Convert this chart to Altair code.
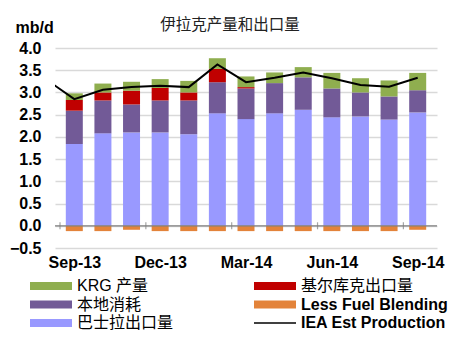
import altair as alt
import pandas as pd

# ---------------- data ----------------
months = ['Sep-13', 'Oct-13', 'Nov-13', 'Dec-13', 'Jan-14', 'Feb-14', 'Mar-14',
          'Apr-14', 'May-14', 'Jun-14', 'Jul-14', 'Aug-14', 'Sep-14']
basra = [1.84, 2.08, 2.10, 2.10, 2.06, 2.53, 2.40, 2.53, 2.61, 2.44, 2.46, 2.39, 2.55]
local = [0.75, 0.74, 0.63, 0.72, 0.76, 0.70, 0.69, 0.68, 0.73, 0.65, 0.54, 0.52, 0.50]
kirkuk = [0.24, 0.18, 0.31, 0.28, 0.18, 0.30, 0.03, 0.0, 0.0, 0.0, 0.0, 0.0, 0.0]
krg = [0.15, 0.20, 0.20, 0.20, 0.26, 0.24, 0.24, 0.24, 0.23, 0.35, 0.32, 0.36, 0.39]
fuel = [-0.12, -0.12, -0.09, -0.12, -0.12, -0.12, -0.12, -0.12, -0.12, -0.12, -0.12, -0.12, -0.09]
line_months = ['Aug-13'] + months
production = [3.30, 2.85, 3.06, 3.12, 3.15, 3.12, 3.63, 3.23, 3.33, 3.45, 3.32, 3.17, 3.13, 3.33]
label_months = [0, 3, 6, 9, 12]
y_ticks = [-0.5, 0.0, 0.5, 1.0, 1.5, 2.0, 2.5, 3.0, 3.5, 4.0]

S_KRG = 'KRG 产量'
S_KIR = '基尔库克出口量'
S_LOC = '本地消耗'
S_FUEL = 'Less Fuel Blending'
S_BAS = '巴士拉出口量'
S_IEA = 'IEA Est Production'
legend_order = [S_KRG, S_LOC, S_BAS, S_KIR, S_FUEL, S_IEA]
colors = ['#8FAE4F', '#725A97', '#9999FF', '#C00000', '#E3833A', '#000000']
stack_series = [(S_BAS, basra), (S_LOC, local), (S_KIR, kirkuk), (S_KRG, krg), (S_FUEL, fuel)]

rows = []
for i, m in enumerate(months):
    for k, (name, arr) in enumerate(stack_series):
        rows.append({'idx': i, 'month': m, 'series': name, 'value': arr[i], 'ord': k})
bars_df = pd.DataFrame(rows)
line_df = pd.DataFrame({'idx': list(range(-1, len(months))), 'month': line_months,
                        'series': S_IEA, 'value': production})
ticks_df = pd.DataFrame({'idx': label_months, 'value': [0.0] * len(label_months)})
zero_df = pd.DataFrame({'value': [0.0]})

FONT = 'Liberation Sans, Noto Sans CJK SC, sans-serif'
label_js = '[' + ','.join("'%s'" % m for m in months) + '][datum.value]'

xscale = alt.Scale(domain=[-0.5, len(months) - 0.5], nice=False, zero=False)
yscale = alt.Scale(domain=[-0.5, 4.0], nice=False, zero=False)

x_axis = alt.Axis(values=label_months, labelExpr=label_js, grid=False, ticks=False,
                  tickSize=0, domain=False, labelFont=FONT, labelFontSize=16,
                  labelFontWeight='bold', labelColor='#000', labelPadding=6,
                  labelFlush=False, labelOverlap=False, title=None)
y_axis = alt.Axis(values=y_ticks, format='.1f',
                  grid=True, gridColor='#D9D9D9', gridWidth=1.5, gridOpacity=1, ticks=False,
                  tickSize=0, domain=False, labelFont=FONT, labelFontSize=16,
                  labelFontWeight='bold', labelColor='#000', labelPadding=14,
                  labelOverlap=False, labelFlush=False,
                  title='mb/d', titleAngle=0, titleX=-40, titleY=-21,
                  titleAlign='left', titleBaseline='middle', titleFont=FONT,
                  titleFontSize=16, titleFontWeight='bold', titleColor='#000')

shape_expr = ("datum.value === '" + S_IEA + "' ? 'M-1,-0.04H1V0.04H-1Z' : 'M-1,-0.19H1V0.19H-1Z'")
weight_expr = ("(datum.label === '" + S_FUEL + "' || datum.label === '" + S_IEA + "') ? 'bold' : 'normal'")

legend = alt.Legend(
    title=None, orient='none', legendX=-25, legendY=230, columns=2, columnPadding=80,
    rowPadding=2.5, symbolSize=1764, symbolStrokeWidth=0, clipHeight=16, labelOffset=5,
    labelFont=FONT, labelFontSize=16, labelColor='#000', labelLimit=300, padding=0,
    symbolType=alt.ExprRef(shape_expr), symbolOpacity=1,
    labelFontWeight=alt.ExprRef(weight_expr))
color = alt.Color('series:N', scale=alt.Scale(domain=legend_order, range=colors), legend=legend)

bars = alt.Chart(bars_df).mark_bar(width=17).encode(
    x=alt.X('idx:Q', scale=xscale, axis=x_axis),
    y=alt.Y('value:Q', scale=yscale, stack='zero', axis=y_axis),
    color=color, order=alt.Order('ord:Q', sort='ascending'))

zero_rule = alt.Chart(zero_df).mark_rule(color='#7F7F7F', strokeWidth=1.2).encode(
    y=alt.Y('value:Q', scale=yscale, axis=y_axis))

ticks = alt.Chart(ticks_df).transform_calculate(idx='datum.idx - 0.5').mark_tick(
    orient='vertical', size=7, thickness=1.2, color='#7F7F7F').encode(
    x=alt.X('idx:Q', scale=xscale, axis=x_axis),
    y=alt.Y('value:Q', scale=yscale, axis=y_axis))

line = alt.Chart(line_df).mark_line(clip=True, strokeWidth=2).encode(
    x=alt.X('idx:Q', scale=xscale, axis=x_axis),
    y=alt.Y('value:Q', scale=yscale, axis=y_axis),
    color=color)

chart = alt.layer(bars, zero_rule, ticks, line).properties(
    width=382, height=200,
    autosize='none',
    padding={'left': 55, 'top': 48, 'right': 31, 'bottom': 104},
    background='white',
    title=alt.TitleParams(text='伊拉克产量和出口量', font='Noto Sans CJK SC', fontSize=15.5,
                          fontWeight='normal', color='#222', anchor='middle', dx=-16,
                          baseline='middle', offset=0, dy=21),
).configure_view(stroke=None)

chart.save('out.html', embed_options={'renderer': 'svg', 'actions': False})
